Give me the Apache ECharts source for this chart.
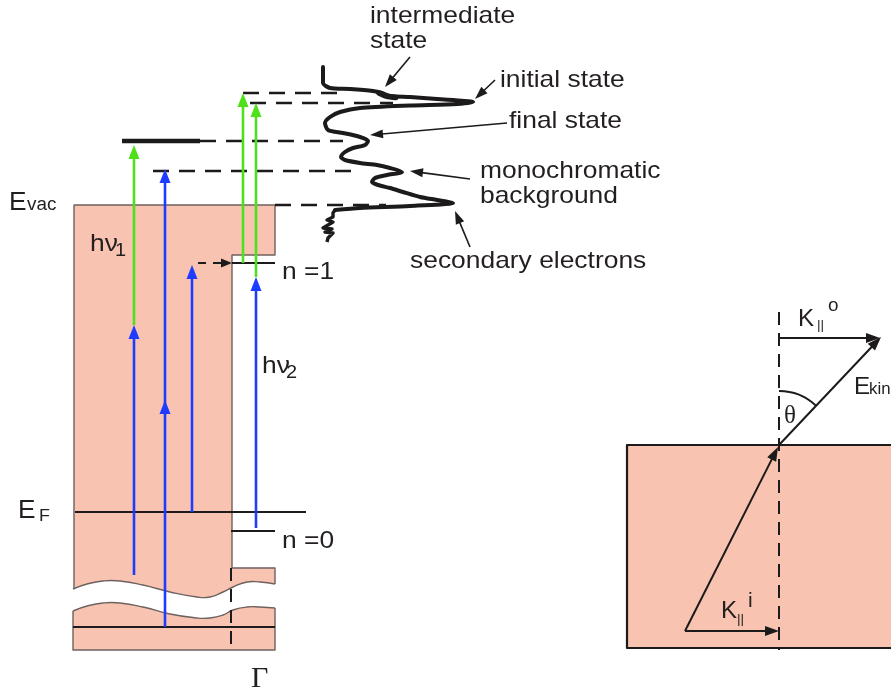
<!DOCTYPE html>
<html>
<head>
<meta charset="utf-8">
<script src="https://cdn.jsdelivr.net/npm/echarts@6/dist/echarts.min.js"></script>
<style>
  html, body { margin: 0; padding: 0; background: #ffffff; }
  #chart { width: 891px; height: 694px; }
</style>
</head>
<body>
<div id="chart"></div>
<script>
// ---- Diagram content, in diagram units (x to the right, y downwards) ----

// Photoemission spectrum trace (intensity to the right, energy downwards)
const spectrumTrace = [
  [323,67],[323,83],[330,88],[350,89],[373,91],[382,93],[390,96],[410,97],[437,99],[473,102],
  [457,104],[410,105.5],[360,108],[340,112],[330,117],[325,123],[328,130],[343,133],[360,137],
  [368,141],[365,145],[353,148],[345,152],[341,157],[345,160],[360,163],[377,165],[390,168],[402,172],
  [387,175],[375,178],[372,182],[378,185],[390,188],[403,192],[420,197],[437,200],[453,203],
  [410,206],[360,208],[335,210]
];
// Noisy low-energy tail of the trace
const spectrumTail = [
  [335,210],[333,213],[333,217],[327,220],[333,222],[323,228],[332,229],[325,232],[333,233],[328,238],[327,242]
];
// Shoulder of the intermediate state on the rising edge
const shoulder = [[379,93],[386,96],[396,97.5]];

// Energy levels: [y, xStart, xEnd]
const dashedLevels = [[93,243,338],[103,250,393],[141,200,343],[171,153,353],[205,275,386]];
const solidLevels  = [[512,75,306],[627,73,275],[263,232,275],[531,231,275]];
const boundLevel   = [[141,122,200]];

// Optical transitions: [x, yFrom, yTo]
const blueTransitions  = [[134,575,325],[165,627,169],[192,512,265],[256,528,277]];
const greenTransitions = [[134,325,145],[243,263,93],[256,277,103]];
const blueMidHeads     = [[165,400]];
const relaxation       = [[198,263],[232,263]];

// Crystal band (broken axis) outline
const waveUpper = [[73,589],[87,584],[103,581],[120,581],[143,585],[170,592],[197,597],[210,597],[223,592],[233,587],[247,582],[260,582],[275,584]];
const waveLower = [[73,611],[87,606],[103,603],[120,603],[143,607],[170,614],[197,618],[210,618],[223,615],[233,610],[247,607],[260,607],[275,608]];
const bandTop   = [[74,589],[74,205],[275,205],[275,255],[232,255],[232,568]];
const bandStep  = [[232,568],[275,568],[275,584]];
const bandBase  = [[73,611],[73,650],[275,650],[275,608]];
const gammaLine = [[231,568],[231,650]];

// Surface / momentum sketch
const surfaceBox    = [[627,445],[900,445],[900,648],[627,648]];
const surfaceNormal = [[779,312],[779,650]];
const kOutside  = [[779,338],[880,338]];
const kInside   = [[685,631],[779,631]];
const kIncident = [[685,631],[778,447]];
const kEmitted  = [[779,445],[881,337]];
const thetaArc  = { center: [779,445], radius: 54 };

// Pointer arrows for the spectrum annotations: [from, to]
const pointers = [
  [[410,57],[385,87]],
  [[495,80],[475,99]],
  [[507,123],[370,135]],
  [[470,179],[410,171]],
  [[470,247],[455,211]]
];

// Text: [text, x, baseline]
const sansLabels = [
  ['intermediate',370,23],['state',370,48],['initial state',500,87],['final state',509,128],
  ['monochromatic',480,178],['background',480,203],['secondary electrons',410,268],
  ['n =1',282,279],['n =0',282,548],['h\u03bd',90,251],['h\u03bd',262,373]
];
const smallLabels = [
  // [text, x, baseline, size]
  ['E',9,210,25],['vac',27,210,18],['1',115,256,19],['2',286,378,19],
  ['E',18,518,25],['F',39,521,17],
  ['E',854,394,23],['kin',869,394,16],
  ['K',798,326,23],['||',817,329,13],['o',828,311,18],
  ['K',721,618,23],['||',737,623,13],['i',748,607,20]
];
const serifLabels = [['\u0393',251,687,30],['\u03b8',784,423,25]];

// ---- Styling ----
const PINK = '#f8c3b0';
const EDGE = '#6e625f';
const INK = '#1c1a1a';
const BLUE = '#1e3cff';
const GREEN = '#4fe01c';
const TEXT = '#231f20';

function P(api, p) { return api.coord(p); }

function polyline(api, pts, stroke, width, dash, smooth) {
  return {
    type: 'polyline',
    shape: { points: pts.map(p => P(api, p)), smooth: smooth || 0 },
    style: { stroke: stroke, lineWidth: width, fill: null, lineDash: dash || null, lineJoin: 'round' }
  };
}

function head(api, tip, dir, color, len, w) {
  const T = P(api, tip);
  const bx = T[0] - dir[0] * len, by = T[1] - dir[1] * len;
  const nx = -dir[1] * w / 2, ny = dir[0] * w / 2;
  return { type: 'polygon', shape: { points: [[T[0], T[1]], [bx + nx, by + ny], [bx - nx, by - ny]] }, style: { fill: color } };
}

function arrow(api, from, to, color, width, len, w, dash) {
  const A = P(api, from), B = P(api, to);
  const dx = B[0] - A[0], dy = B[1] - A[1], L = Math.hypot(dx, dy) || 1;
  const ux = dx / L, uy = dy / L;
  const ex = B[0] - ux * (len - 1), ey = B[1] - uy * (len - 1);
  return {
    type: 'group',
    children: [
      { type: 'line', shape: { x1: A[0], y1: A[1], x2: ex, y2: ey }, style: { stroke: color, lineWidth: width, lineDash: dash || null } },
      head(api, to, [ux, uy], color, len, w)
    ]
  };
}

// Text placed by its baseline
function text(api, str, x, base, size, family, sx) {
  const p = P(api, [x, base]);
  return {
    type: 'text', x: p[0], y: p[1] - 0.26 * size, scaleX: sx || 1,
    style: { text: str, x: 0, y: 0, font: size + 'px ' + family, fill: TEXT, align: 'left', verticalAlign: 'middle' }
  };
}

// One custom layer: renders each entry of `items` with `build`
function layer(name, items, build, z) {
  return {
    name: name, type: 'custom', coordinateSystem: 'cartesian2d', silent: true, clip: false, z: z,
    data: items.map((_, i) => [i, 0]),
    renderItem: (params, api) => build(items[params.dataIndex], api)
  };
}

const SANS = '"Liberation Sans", Arial, sans-serif';
const SERIF = '"Liberation Serif", "DejaVu Serif", serif';

const chart = echarts.init(document.getElementById('chart'), null, { renderer: 'canvas' });

chart.setOption({
  animation: false,
  backgroundColor: '#ffffff',
  grid: { left: 0, right: 0, top: 0, bottom: 0 },
  xAxis: { type: 'value', min: 0, max: 891, show: false },
  yAxis: { type: 'value', min: 0, max: 694, inverse: true, show: false },
  series: [
    // band fills
    layer('bands', [
      bandTop.concat(bandStep.slice(1), waveUpper.slice().reverse()),
      waveLower.concat([[275,650],[73,650]]),
      surfaceBox
    ], (pts, api) => ({ type: 'polygon', shape: { points: pts.map(p => P(api, p)) }, style: { fill: PINK } }), 1),

    // band outlines
    layer('band edges', [bandTop, bandStep, bandBase], (pts, api) => polyline(api, pts, EDGE, 1.4), 2),
    layer('band breaks', [waveUpper, waveLower], (pts, api) => polyline(api, pts, EDGE, 1.4, null, 0.5), 2),
    layer('surface', [[surfaceBox[1], surfaceBox[0], surfaceBox[3], surfaceBox[2]]], (pts, api) => polyline(api, pts, INK, 2.2), 2),

    // energy levels
    layer('levels', solidLevels, (l, api) => polyline(api, [[l[1], l[0]], [l[2], l[0]]], INK, 2.2), 3),
    layer('bound level', boundLevel, (l, api) => polyline(api, [[l[1], l[0]], [l[2], l[0]]], INK, 4.5), 3),
    layer('dashed levels', dashedLevels, (l, api) => polyline(api, [[l[1], l[0]], [l[2], l[0]]], INK, 2.4, [16, 10]), 3),
    layer('gamma', [gammaLine, surfaceNormal], (pts, api) => polyline(api, pts, INK, 2, [13, 8]), 3),

    // transitions
    layer('green', greenTransitions, (t, api) => arrow(api, [t[0], t[1]], [t[0], t[2]], GREEN, 2.6, 14, 11), 4),
    layer('blue', blueTransitions, (t, api) => arrow(api, [t[0], t[1]], [t[0], t[2]], BLUE, 2.6, 14, 11), 5),
    layer('blue mid', blueMidHeads, (h, api) => head(api, h, [0, -1], BLUE, 14, 11), 5),
    layer('relaxation', [relaxation], (r, api) => arrow(api, r[0], r[1], INK, 2.2, 11, 9, [8, 7]), 5),

    // momentum sketch
    layer('k vectors', [kOutside, kInside, kIncident, kEmitted], (v, api) => arrow(api, v[0], v[1], INK, 2, 14, 10), 5),
    layer('theta', [thetaArc], (a, api) => {
      const c = P(api, a.center);
      const e = P(api, kEmitted[1]);
      const ang = Math.atan2(e[1] - c[1], e[0] - c[0]);
      return { type: 'arc', shape: { cx: c[0], cy: c[1], r: a.radius, startAngle: -Math.PI / 2, endAngle: ang, clockwise: true }, style: { stroke: INK, lineWidth: 1.8, fill: null } };
    }, 5),

    // spectrum
    {
      name: 'spectrum', type: 'line', data: spectrumTrace, smooth: 0.25, symbol: 'none', z: 6,
      lineStyle: { color: INK, width: 4, join: 'round', cap: 'round' }, silent: true, clip: false
    },
    {
      name: 'spectrum tail', type: 'line', data: spectrumTail, smooth: false, symbol: 'none', z: 6,
      lineStyle: { color: INK, width: 3.4, join: 'round' }, silent: true, clip: false
    },
    {
      name: 'shoulder', type: 'line', data: shoulder, smooth: 0.3, symbol: 'none', z: 6,
      lineStyle: { color: INK, width: 5.5, cap: 'round' }, silent: true, clip: false
    },

    // annotation pointers
    layer('pointers', pointers, (p, api) => arrow(api, p[0], p[1], INK, 1.6, 13, 9), 7),

    // text
    layer('labels', sansLabels, (l, api) => text(api, l[0], l[1], l[2], 24, SANS, 1.1), 8),
    layer('small labels', smallLabels, (l, api) => text(api, l[0], l[1], l[2], l[3], SANS, 1.05), 8),
    layer('serif labels', serifLabels, (l, api) => text(api, l[0], l[1], l[2], l[3], SERIF, 1), 8)
  ]
});
</script>
</body>
</html>
